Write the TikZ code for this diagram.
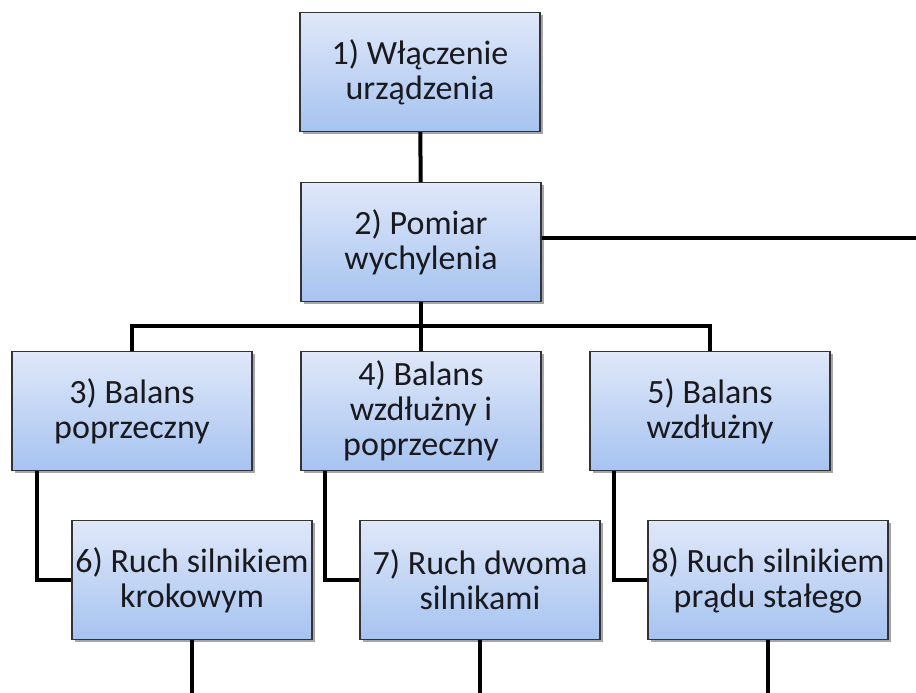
\documentclass[tikz,border=0pt]{standalone}
\usepackage{fontspec}
\setmainfont{Carlito}
\usetikzlibrary{shadows}
\definecolor{boxtop}{RGB}{224,232,249}
\definecolor{boxbottom}{RGB}{166,195,240}
\definecolor{boxline}{RGB}{50,50,55}
\definecolor{boxtext}{RGB}{25,25,30}

\begin{document}
\begin{tikzpicture}[x=1pt, y=-1pt]
    \tikzstyle{stage} = [rectangle, minimum width=240pt, minimum height=119pt, inner sep=0pt, align=center, text=boxtext, draw=boxline, line width=1.3pt, top color=boxtop, bottom color=boxbottom, drop shadow={shadow xshift=2.5pt, shadow yshift=-2.5pt, fill=black, opacity=0.35}, font=\fontsize{34}{35}\selectfont]
    \tikzstyle{link} = [line width=4pt, black]

    \useasboundingbox (0,0) rectangle (916,693);

    \node[stage] (start) at (420,72) {1) Włączenie\\urządzenia};
    \node[stage] (measure) at (421,242) {2) Pomiar\\wychylenia};
    \node[stage] (lateral) at (132,411) {3) Balans\\poprzeczny};
    \node[stage] (both) at (421,411) {4) Balans\\wzdłużny i\\poprzeczny};
    \node[stage] (longit) at (710,411) {5) Balans\\wzdłużny};
    \node[stage] (stepper) at (192,580) {6) Ruch silnikiem\\krokowym};
    \node[stage] (twomotors) at (480,580) {7) Ruch dwoma\\silnikami};
    \node[stage] (dcmotor) at (768,580) {8) Ruch silnikiem\\prądu stałego};

    \coordinate (exit) at (916,238);

    \draw[link] (start) -- (measure);
    \draw[link] (measure.east |- exit) -- (exit);
    \draw[link] (measure) -- (both);
    \draw[link] (lateral.north) -- ++(0,-25) -| (longit.north);
    \draw[link] ([xshift=26pt]lateral.south west) |- (stepper.west);
    \draw[link] ([xshift=25pt]both.south west) |- (twomotors.west);
    \draw[link] ([xshift=25pt]longit.south west) |- (dcmotor.west);
    \draw[link] (stepper.south) -- ++(0,60);
    \draw[link] (twomotors.south) -- ++(0,60);
    \draw[link] (dcmotor.south) -- ++(0,60);
\end{tikzpicture}
\end{document}
